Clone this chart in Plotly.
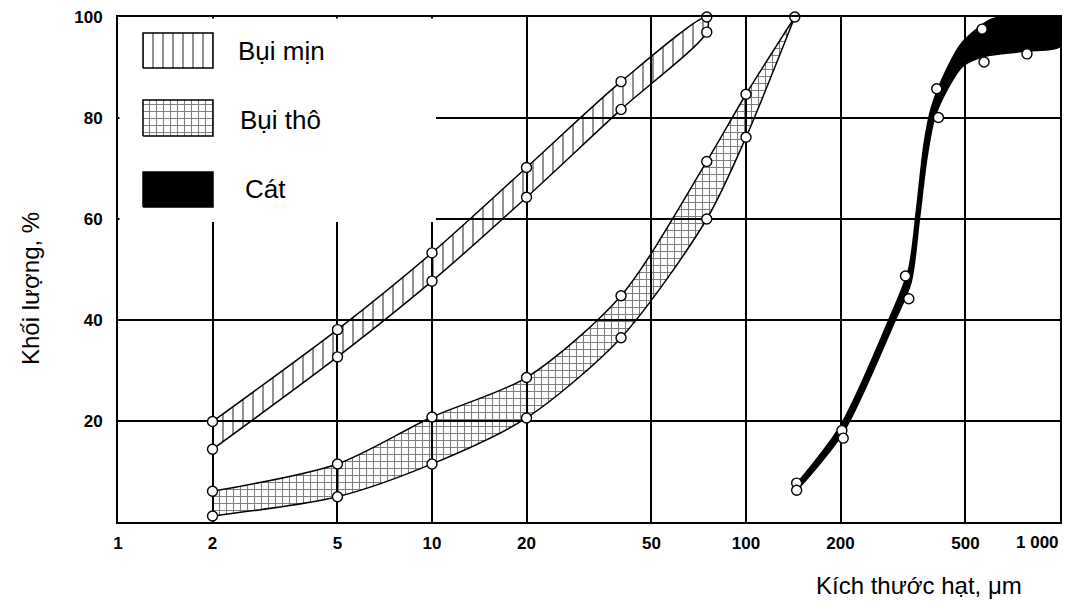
import plotly.graph_objects as go

# ---------------- data ----------------
fine_x = [2, 5, 10, 20, 40, 75]
fine_upper = [19.9, 38.1, 53.3, 70.2, 87.2, 100]
fine_lower = [14.4, 32.7, 47.7, 64.3, 81.7, 97]

coarse_x = [2, 5, 10, 20, 40, 75, 100, 143]
coarse_upper = [6.1, 11.5, 20.8, 28.6, 44.8, 71.4, 84.7, 100]
coarse_lower = [1.2, 5.0, 11.5, 20.6, 36.5, 60.0, 76.2, 100]

sand_upper_x = [145, 200, 290, 330, 350, 370, 390, 437, 490, 610, 750, 1000]
sand_upper_y = [7.5, 19, 41, 50, 62, 75, 82, 89.7, 95, 99.6, 100, 100]
sand_lower_x = [147, 204, 296, 335, 356, 376, 398, 437, 490, 580, 786, 1000]
sand_lower_y = [6.7, 17.8, 39.5, 47.5, 60, 72, 80, 85.7, 90.3, 92.3, 93.3, 94.2]

sand_pts_x = [145, 145, 202, 204, 322, 330, 405, 410, 565, 573, 785, 785]
sand_pts_y = [7.7, 6.3, 18.1, 16.6, 48.7, 44.2, 85.8, 80.1, 97.6, 91.1, 100.6, 92.7]

x_ticks = [1, 2, 5, 10, 20, 50, 100, 200, 500, 1000]
x_ticktext = ["1", "2", "5", "10", "20", "50", "100", "200", "500", "1 000"]
y_ticks = [20, 40, 60, 80, 100]

series_names = ["Bụi mịn", "Bụi thô", "Cát"]

# ---------------- layout geometry (pixels of the page) ----------------
PL, PR, PT, PB = 118, 1060, 17, 522   # plot area edges
W_PX, H_PX = PR - PL, PB - PT

def fx(px):
    return (px - PL) / W_PX

def fy(py):
    return (PB - py) / H_PX

legend_boxes = [(fx(143), fx(213), fy(68), fy(33)),
                (fx(143), fx(213), fy(136), fy(100)),
                (fx(143), fx(213), fy(207), fy(172))]
legend_text_pos = [(fx(236), fy(51)), (fx(238), fy(120)), (fx(243), fy(189))]
legend_area = (fx(119.5), fx(436), fy(222), fy(18.5))

pat_fine = dict(shape="|", size=10, solidity=0.17, fgcolor="black", bgcolor="rgba(0,0,0,0)")
pat_coarse = dict(shape="+", size=7, solidity=0.28, fgcolor="black", bgcolor="rgba(0,0,0,0)")
pat_fine_leg = dict(shape="|", size=10, solidity=0.17, fgcolor="black", bgcolor="white")
pat_coarse_leg = dict(shape="+", size=7, solidity=0.28, fgcolor="black", bgcolor="white")

fig = go.Figure()

def band(xs_up, ys_up, xs_lo, ys_lo, pattern=None, color=None, lw=1.5):
    xs = list(xs_up) + list(xs_lo)[::-1]
    ys = list(ys_up) + list(ys_lo)[::-1]
    kw = dict(x=xs, y=ys, mode="lines", fill="toself", showlegend=False,
              line=dict(color="black", width=lw, shape="spline", smoothing=0.8),
              hoverinfo="skip")
    if pattern is not None:
        kw["fillpattern"] = pattern
        kw["fillcolor"] = "rgba(0,0,0,0)"
    else:
        kw["fillcolor"] = color
    fig.add_trace(go.Scatter(**kw))

band(fine_x, fine_upper, fine_x, fine_lower, pattern=pat_fine)
band(coarse_x, coarse_upper, coarse_x, coarse_lower, pattern=pat_coarse)
band(sand_upper_x, sand_upper_y, sand_lower_x, sand_lower_y, color="black", lw=2)

marker = dict(symbol="circle", size=10, color="white", line=dict(color="black", width=1.4))
fig.add_trace(go.Scatter(x=fine_x + fine_x, y=fine_upper + fine_lower, mode="markers",
                         marker=marker, showlegend=False, cliponaxis=False))
fig.add_trace(go.Scatter(x=coarse_x[:-1] + coarse_x, y=coarse_upper[:-1] + coarse_lower,
                         mode="markers", marker=marker, showlegend=False, cliponaxis=False))
fig.add_trace(go.Scatter(x=sand_pts_x, y=sand_pts_y, mode="markers",
                         marker=marker, showlegend=False, cliponaxis=False))

# white legend area (hides grid) + legend swatches on an overlay axis
ax0, ax1, ay0, ay1 = legend_area
fig.add_trace(go.Scatter(x=[ax0, ax1, ax1, ax0, ax0], y=[ay0, ay0, ay1, ay1, ay0],
                         xaxis="x2", yaxis="y2", mode="lines", fill="toself",
                         fillcolor="white", line=dict(width=0), showlegend=False,
                         hoverinfo="skip"))
leg_fills = [dict(fillpattern=pat_fine_leg, fillcolor="white"),
             dict(fillpattern=pat_coarse_leg, fillcolor="white"),
             dict(fillcolor="black")]
for (x0, x1, y0, y1), f in zip(legend_boxes, leg_fills):
    fig.add_trace(go.Scatter(x=[x0, x1, x1, x0, x0], y=[y0, y0, y1, y1, y0],
                             xaxis="x2", yaxis="y2", mode="lines", fill="toself",
                             line=dict(color="black", width=1.5), showlegend=False,
                             hoverinfo="skip", **f))
for name, (tx, ty) in zip(series_names, legend_text_pos):
    fig.add_annotation(x=tx, y=ty, xref="x2", yref="y2", text=name, showarrow=False,
                       xanchor="left", yanchor="middle",
                       font=dict(family="Liberation Sans, Arial", size=26, color="black"))

tick_font = dict(family="Liberation Sans, Arial", size=17, color="black", weight="bold")

# last x tick label sits left of its gridline in the reference -> annotation
fig.add_annotation(x=3, y=fy(542), xref="x", yref="paper", text=x_ticktext[-1],
                   showarrow=False, xanchor="right", yanchor="middle", xshift=1,
                   font=tick_font)

# axis titles
fig.add_annotation(x=fx(919), y=fy(585), xref="paper", yref="paper",
                   xanchor="center", yanchor="middle",
                   text="Kích thước hạt, μm", showarrow=False,
                   font=dict(family="Liberation Sans, Arial", size=24, color="black"))
fig.add_annotation(x=fx(30), y=fy(289), xref="paper", yref="paper",
                   text="Khối lượng, %", textangle=-90, showarrow=False,
                   xanchor="center", yanchor="middle",
                   font=dict(family="Liberation Sans, Arial", size=24, color="black"))

# page body has an 8px margin: compensate so the plot area lands at PL..PR, PT..PB
OFF = 8
fig.update_layout(
    width=1090 - OFF, height=609 - OFF,
    margin=dict(l=PL - OFF, r=1090 - PR, t=PT - OFF, b=609 - PB, autoexpand=False),
    paper_bgcolor="white", plot_bgcolor="white",
    showlegend=False,
    xaxis=dict(type="log", range=[0, 3], tickvals=x_ticks[:-1], ticktext=x_ticktext[:-1],
               showgrid=True, gridcolor="black", gridwidth=1.5,
               showline=True, linecolor="black", linewidth=2, mirror=True,
               ticks="", tickfont=tick_font, ticklabelstandoff=5, zeroline=False,
               ticklabeloverflow="allow", automargin=False),
    yaxis=dict(range=[0, 100], tickvals=y_ticks, showgrid=True, gridcolor="black", gridwidth=1.5,
               showline=True, linecolor="black", linewidth=2, mirror=True,
               ticks="", tickfont=tick_font, ticklabelstandoff=10, zeroline=False,
               ticklabeloverflow="allow", automargin=False),
    xaxis2=dict(overlaying="x", range=[0, 1], visible=False, anchor="y2"),
    yaxis2=dict(overlaying="y", range=[0, 1], visible=False, anchor="x2"),
)

fig.write_html("out.html")
